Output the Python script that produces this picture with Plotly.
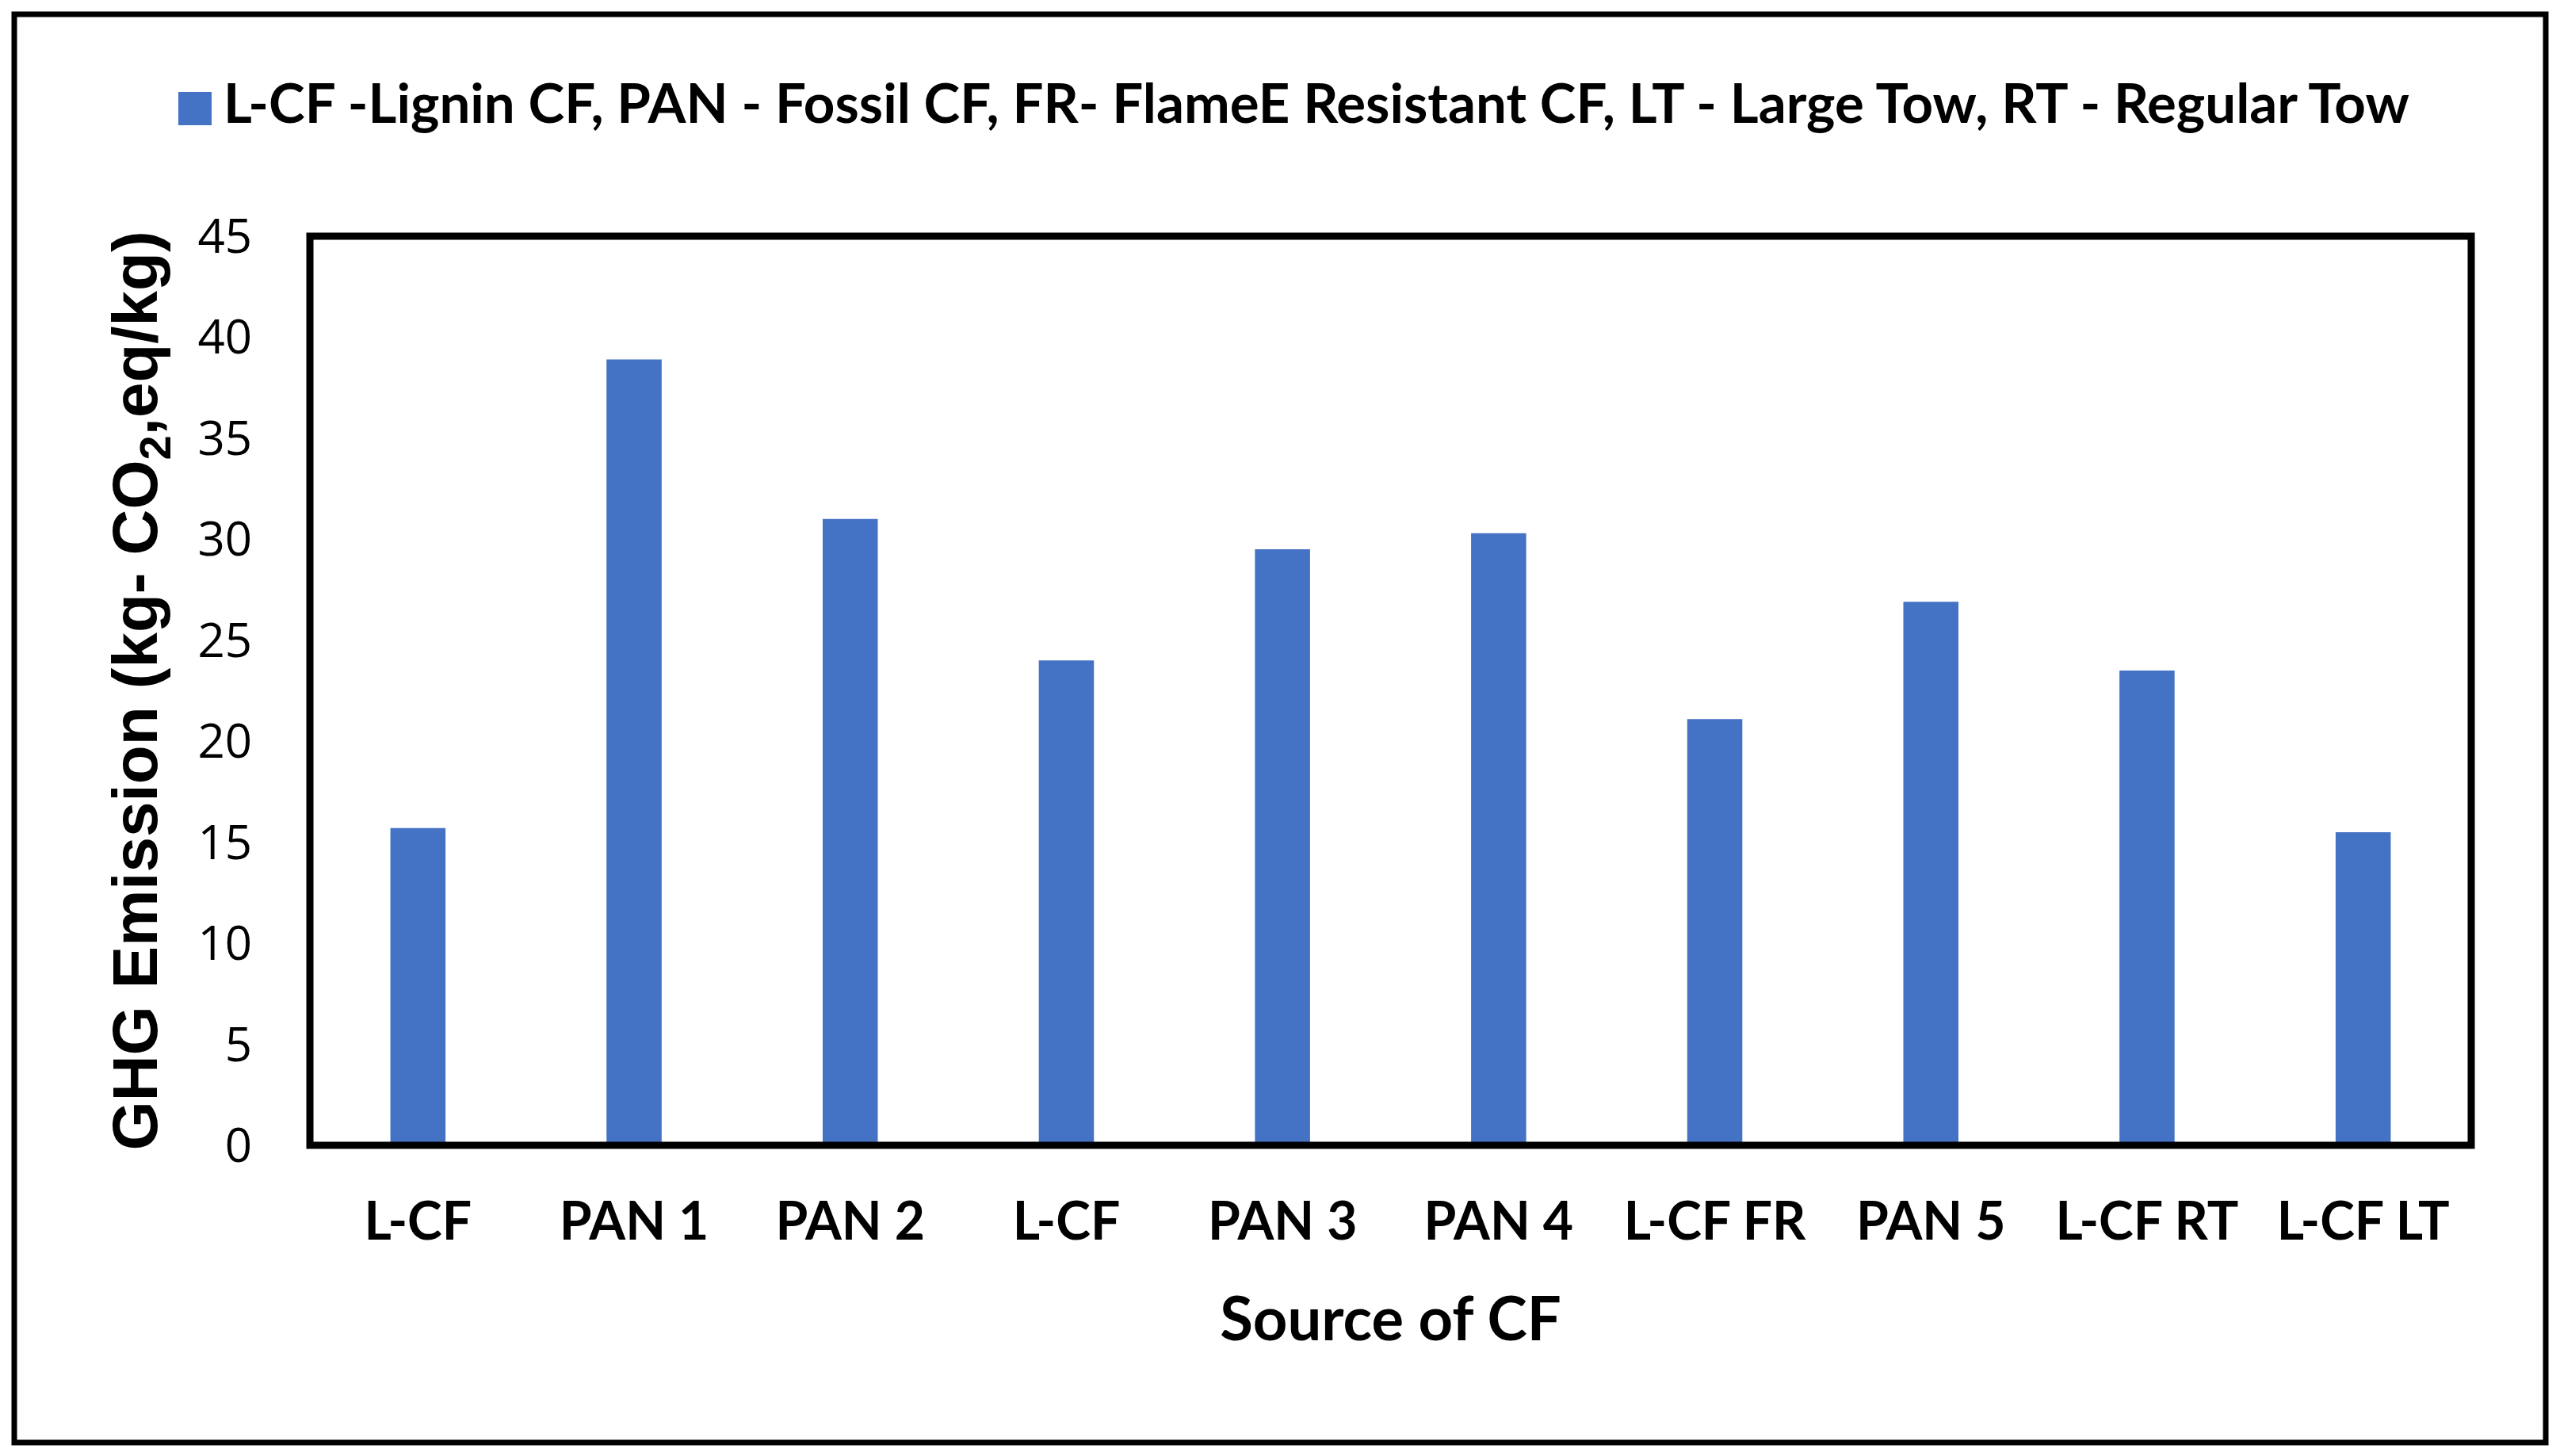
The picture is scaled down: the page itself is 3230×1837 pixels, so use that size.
import plotly.graph_objects as go

categories = ["L-CF", "PAN 1", "PAN 2", "L-CF ", "PAN 3", "PAN 4", "L-CF FR", "PAN 5", "L-CF RT", "L-CF LT"]
tick_labels = ["L-CF", "PAN 1", "PAN 2", "L-CF", "PAN 3", "PAN 4", "L-CF FR", "PAN 5", "L-CF RT", "L-CF LT"]
ghg_values = [15.7, 38.9, 31.0, 24.0, 29.5, 30.3, 21.1, 26.9, 23.5, 15.5]
y_ticks = [0, 5, 10, 15, 20, 25, 30, 35, 40, 45]
legend_text = "L-CF -Lignin CF, PAN - Fossil CF, FR- FlameE Resistant CF, LT - Large Tow, RT - Regular Tow"
x_title = "Source of CF"
y_title = "GHG Emission (kg- CO<sub>2</sub>,eq/kg)"

OFF = 8  # page body margin offset
W, H = 3230 - OFF, 1837 - OFF
L, R, T, B = 391 - OFF, 3118 - OFF, 298 - OFF, 1445 - OFF
PW, PH = R - L, B - T
BAR_COLOR = "#4472C4"


def px_x(p):
    return (p - OFF - L) / PW


def px_y(p):
    return (B - (p - OFF)) / PH


fig = go.Figure()
fig.add_trace(go.Bar(
    x=categories, y=ghg_values, marker=dict(color=BAR_COLOR, line=dict(width=0)),
    name=legend_text, showlegend=False,
))

fig.update_layout(
    width=W, height=H,
    margin=dict(l=L, r=W - R, t=T, b=H - B, pad=0),
    paper_bgcolor="white", plot_bgcolor="white",
    bargap=0.745,
    showlegend=False,
    xaxis=dict(
        type="category", tickmode="array", tickvals=categories, ticktext=tick_labels,
        showgrid=False, zeroline=False, showline=False, ticks="",
        tickfont=dict(family="Lato", size=66, color="black", weight="bold"),
        ticklabelstandoff=52,
        title=dict(text=x_title, font=dict(family="Lato", size=76, color="black", weight="bold"), standoff=60),
    ),
    yaxis=dict(
        range=[0, 45], tickmode="array", tickvals=y_ticks,
        showgrid=False, zeroline=False, showline=False, ticks="",
        tickfont=dict(family="Open Sans", size=60, color="black"),
        ticklabelstandoff=72,
        title=dict(text=y_title, font=dict(family="Liberation Sans", size=80, color="black", weight="bold"), standoff=24),
    ),
    shapes=[
        dict(type="rect", xref="paper", yref="paper", x0=0, x1=1, y0=0, y1=1,
             line=dict(color="black", width=9), layer="above"),
        dict(type="rect", xref="paper", yref="paper",
             x0=px_x(18), x1=px_x(3212), y0=px_y(18), y1=px_y(1820),
             line=dict(color="black", width=7), layer="above"),
        dict(type="rect", xref="paper", yref="paper",
             x0=px_x(225), x1=px_x(267), y0=px_y(158), y1=px_y(116),
             fillcolor=BAR_COLOR, line=dict(width=0)),
    ],
    annotations=[
        dict(text="<b>" + legend_text + "</b>", xref="paper", yref="paper",
             x=px_x(280), y=px_y(128), xanchor="left", yanchor="middle", showarrow=False,
             font=dict(family="Lato", size=69, color="black")),
    ],
)

fig.write_html("out.html")
